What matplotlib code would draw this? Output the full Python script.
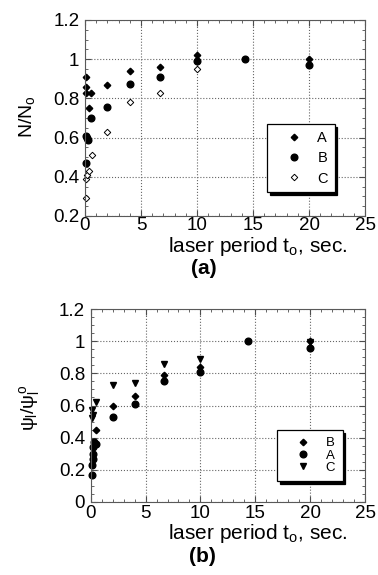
import matplotlib
matplotlib.use('Agg')
import matplotlib.pyplot as plt
from matplotlib.ticker import MultipleLocator

plt.rcParams['font.family'] = ['Liberation Sans', 'DejaVu Sans']
plt.rcParams['mathtext.fontset'] = 'custom'
plt.rcParams['mathtext.rm'] = 'Liberation Sans'
plt.rcParams['mathtext.it'] = 'Liberation Sans'

# (a) N/No vs laser period
a_A_x = [0.1, 0.1, 0.1, 0.33, 0.5, 2, 4, 6.67, 10, 20]
a_A_y = [0.91, 0.86, 0.83, 0.75, 0.83, 0.87, 0.94, 0.96, 1.02, 1.0]
a_B_x = [0.1, 0.1, 0.17, 0.25, 0.5, 2, 4, 6.67, 10, 14.3, 20]
a_B_y = [0.47, 0.61, 0.60, 0.59, 0.70, 0.755, 0.875, 0.91, 0.99, 1.0, 0.97]
a_C_x = [0.1, 0.1, 0.2, 0.33, 0.6, 2, 4, 6.67, 10]
a_C_y = [0.29, 0.39, 0.41, 0.43, 0.51, 0.63, 0.78, 0.83, 0.95]

# (b) psi/psi_o vs laser period
b_B_x = [0.5, 2, 4, 6.67, 10, 20]
b_B_y = [0.45, 0.60, 0.657, 0.787, 0.84, 1.0]
b_A_x = [0.1, 0.1, 0.17, 0.25, 0.25, 0.33, 0.5, 2, 4, 6.67, 10, 14.3, 20]
b_A_y = [0.17, 0.23, 0.27, 0.30, 0.34, 0.37, 0.36, 0.53, 0.61, 0.75, 0.81, 1.0, 0.96]
b_C_x = [0.1, 0.1, 0.17, 0.5, 2, 4, 6.67, 10, 20]
b_C_y = [0.57, 0.52, 0.54, 0.62, 0.725, 0.74, 0.86, 0.89, 0.995]

W, H = 378, 575
fig = plt.figure(figsize=(W / 100, H / 100), dpi=100)
ax1 = fig.add_axes([85 / W, 1 - 216 / H, 280 / W, 196 / H])
ax2 = fig.add_axes([90.7 / W, 1 - 502 / H, 274.3 / W, 193 / H])


def style(ax, ymin, ymax, xpad):
    ax.set_xlim(0, 25)
    ax.set_ylim(ymin, ymax)
    ax.xaxis.set_major_locator(MultipleLocator(5))
    ax.xaxis.set_minor_locator(MultipleLocator(1))
    ax.yaxis.set_major_locator(MultipleLocator(0.2))
    ax.yaxis.set_minor_locator(MultipleLocator(0.05))
    ax.tick_params(which='both', direction='in', top=True, right=True,
                   labelsize=13.5)
    ax.tick_params(axis='x', pad=xpad)
    ax.tick_params(axis='y', pad=4)
    ax.tick_params(which='major', length=4, color='0.3')
    ax.tick_params(which='minor', length=2, color='0.3')
    ax.grid(True, which='major', linestyle=':', color='0.4', linewidth=0.8)
    ax.set_axisbelow(True)
    for s in ax.spines.values():
        s.set_linewidth(0.8)
        s.set_color('0.35')
    ax.set_xlabel(r'laser period t$_\mathrm{o}$, sec.', fontsize=15)
    ax.yaxis.set_major_formatter(plt.FuncFormatter(lambda v, p: '%g' % round(v, 2)))


def box(leg):
    leg.get_frame().set_edgecolor('k')
    leg.get_frame().set_linewidth(0.9)


style(ax1, 0.2, 1.2, 1.0)
ax1.plot(a_A_x, a_A_y, 'D', color='k', ms=3.3, label='A', clip_on=False)
ax1.plot(a_B_x, a_B_y, 'o', color='k', ms=4.8, label='B', clip_on=False)
ax1.plot(a_C_x, a_C_y, 'D', mfc='white', mec='k', mew=0.7, ms=3.3, label='C',
         clip_on=False)
ax1.xaxis.set_label_coords(0.616, -0.095)
leg1 = ax1.legend(loc='upper left', bbox_to_anchor=((267 - 85) / 280, (216 - 124) / 196),
                  frameon=True, fancybox=False, shadow={'color': 'k', 'alpha': 1},
                  fontsize=10.5, handletextpad=0.2, labelspacing=0.44,
                  borderpad=0.46, handlelength=2.8, borderaxespad=0)
box(leg1)

style(ax2, 0, 1.2, 2.0)
ax2.plot(b_B_x, b_B_y, 'D', color='k', ms=3.3, label='B', clip_on=False)
ax2.plot(b_A_x, b_A_y, 'o', color='k', ms=4.8, label='A', clip_on=False)
ax2.plot(b_C_x, b_C_y, 'v', color='k', ms=5, label='C', clip_on=False)
ax2.xaxis.set_label_coords(0.608, -0.105)
leg2 = ax2.legend(loc='upper left', bbox_to_anchor=((277 - 90.7) / 274.3, (502 - 430) / 193),
                  frameon=True, fancybox=False, shadow={'color': 'k', 'alpha': 1},
                  fontsize=9.5, handletextpad=0.25, labelspacing=0.0,
                  borderpad=0.55, handlelength=2.9, borderaxespad=0)
box(leg2)

fig.text(27 / W, 1 - 117 / H, r'N/N$_\mathrm{o}$', fontsize=14, rotation=90,
         ha='center', va='center')
fig.text(30 / W, 1 - 408 / H, r'$\psi_\mathrm{l}/\psi_\mathrm{l}^\mathrm{o}$',
         fontsize=14, rotation=90, ha='center', va='center')
fig.text(204 / W, 1 - 268 / H, '(a)', fontsize=15, fontweight='bold',
         ha='center', va='center')
fig.text(202 / W, 1 - 556 / H, '(b)', fontsize=15, fontweight='bold',
         ha='center', va='center')

fig.savefig('out.png', dpi=100)
